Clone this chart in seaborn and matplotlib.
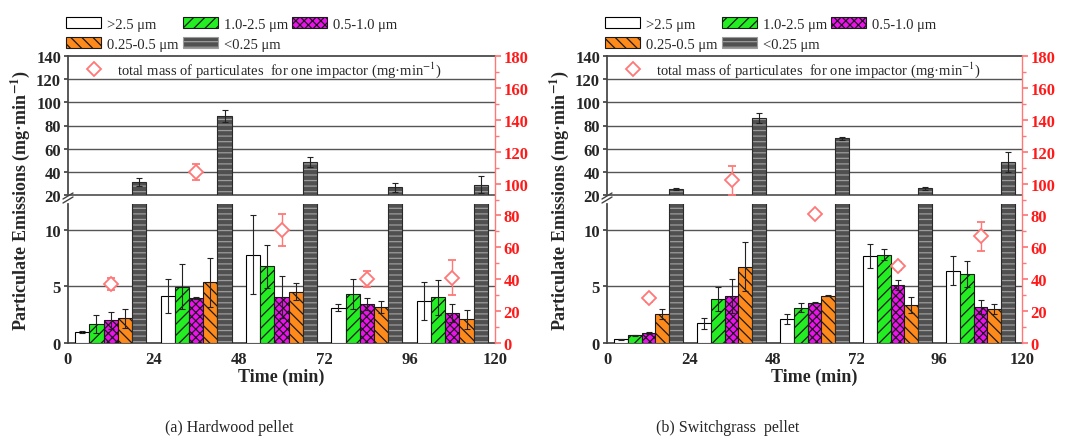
import numpy as np
import matplotlib
matplotlib.use("Agg")
import matplotlib.pyplot as plt
import seaborn as sns
from matplotlib.patches import Patch
from matplotlib.lines import Line2D
from matplotlib.ticker import MultipleLocator

# ---------------- data ----------------
size_labels = [">2.5 μm", "1.0-2.5 μm", "0.5-1.0 μm", "0.25-0.5 μm", "<0.25 μm"]
group_centers = [12, 36, 60, 84, 108]
time_ticks = [0, 24, 48, 72, 96, 120]
panel_titles = ["(a) Hardwood pellet", "(b) Switchgrass  pellet"]
total_label = "total mass of particulates  for one impactor (mg·min$^{-1}$)"

# (a) Hardwood pellet
hw_gt25 = [0.98, 4.17, 7.83, 3.12, 3.72]
hw_gt25_err = [0.08, 1.5, 3.5, 0.3, 1.7]
hw_10_25 = [1.67, 4.97, 6.79, 4.35, 4.05]
hw_10_25_err = [0.8, 2.0, 1.9, 1.35, 1.55]
hw_05_10 = [2.02, 4.0, 4.1, 3.45, 2.62]
hw_05_10_err = [0.75, 0.1, 1.85, 0.5, 0.8]
hw_025_05 = [2.17, 5.36, 4.55, 3.21, 2.08]
hw_025_05_err = [0.8, 2.2, 0.75, 0.55, 0.85]
hw_lt025 = [31, 88, 48.5, 26.5, 29]
hw_lt025_err = [3.5, 5, 4, 4, 7]
hw_total = [37, 107, 71, 40, 41]
hw_total_err = [4, 5, 10, 5, 11]

# (b) Switchgrass pellet
sg_gt25 = [0.33, 1.73, 2.11, 7.71, 6.4]
sg_gt25_err = [0.05, 0.5, 0.45, 1.07, 1.28]
sg_10_25 = [0.68, 3.87, 3.13, 7.83, 6.13]
sg_10_25_err = [0.05, 1.07, 0.4, 0.45, 1.16]
sg_05_10 = [0.89, 4.17, 3.57, 5.15, 3.21]
sg_05_10_err = [0.05, 1.5, 0.05, 0.45, 0.6]
sg_025_05 = [2.53, 6.76, 4.2, 3.36, 3.0]
sg_025_05_err = [0.45, 2.2, 0.05, 0.7, 0.45]
sg_lt025 = [25, 86.6, 68.8, 25.7, 48.7]
sg_lt025_err = [1, 4.5, 1, 1, 8.6]
sg_total = [28, 102, 81, 48, 67]
sg_total_err = [2, 9, 2, 2.5, 9]

panels = [
    dict(series=[hw_gt25, hw_10_25, hw_05_10, hw_025_05, hw_lt025],
         errs=[hw_gt25_err, hw_10_25_err, hw_05_10_err, hw_025_05_err, hw_lt025_err],
         total=hw_total, total_err=hw_total_err),
    dict(series=[sg_gt25, sg_10_25, sg_05_10, sg_025_05, sg_lt025],
         errs=[sg_gt25_err, sg_10_25_err, sg_05_10_err, sg_025_05_err, sg_lt025_err],
         total=sg_total, total_err=sg_total_err),
]

# ---------------- style ----------------
sns.set_theme(style="white")
plt.rcParams["font.family"] = ["Liberation Serif", "DejaVu Serif"]
plt.rcParams["mathtext.fontset"] = "stix"
plt.rcParams["hatch.linewidth"] = 0.9

face_colors = ["white", "#22ee22", "#ee11ee", "#ff8a1c", "#505050"]
hatch_colors = ["black", "#1a1a1a", "#1a1a1a", "#1a1a1a", "#9c9c9c"]
hatches = [None, "///", "xxxx", "\\\\\\", "---"]
red = "#ff1a1a"
pink = "#ff7777"
grid_c = "#555555"

W, H = 1072, 439
fig = plt.figure(figsize=(W / 100, H / 100), dpi=100)

def fx(px):
    return px / W

def fy(py):
    return 1 - py / H

panel_x = [(68, 495), (607, 1022)]
up_top, up_bot = 57, 196
lo_top, lo_bot = 205, 344
bar_w = 4
offsets = [-8, -4, 0, 4, 8]
caption_x = [229, 728]

for p, (x0, x1) in enumerate(panel_x):
    d = panels[p]
    ax_up = fig.add_axes([fx(x0), fy(up_bot), fx(x1 - x0), fy(up_top) - fy(up_bot)])
    ax_lo = fig.add_axes([fx(x0), fy(lo_bot), fx(x1 - x0), fy(lo_top) - fy(lo_bot)])

    for ax in (ax_up, ax_lo):
        for k in range(5):
            xs = [c + offsets[k] for c in group_centers]
            sns.barplot(x=xs, y=d["series"][k], native_scale=True, width=bar_w / 24,
                        color=face_colors[k], saturation=1, errorbar=None,
                        edgecolor=hatch_colors[k], linewidth=0 if k == 4 else 0.8,
                        hatch=hatches[k], ax=ax, zorder=3)
            if k == 4:
                ax.bar(xs, d["series"][k], width=bar_w, fill=False,
                       edgecolor="#2a2a2a", linewidth=0.8, zorder=4)
            ax.errorbar(xs, d["series"][k], yerr=d["errs"][k], fmt="none",
                        ecolor="#222222", elinewidth=0.8, capsize=2.5, capthick=0.8,
                        zorder=5)
        ax.set_xlim(0, 120)
        ax.set_xlabel("")
        ax.set_ylabel("")
        ax.grid(False)
        ax.spines["right"].set_visible(False)
        ax.spines["left"].set_color("#444444")
        ax.set_facecolor("none")

    ax_up.set_ylim(20, 140)
    ax_up.set_yticks(range(20, 141, 20))
    for v in range(40, 140, 20):
        ax_up.axhline(v, color=grid_c, lw=1.0, zorder=1)
    ax_up.spines["bottom"].set_color(grid_c)
    ax_up.spines["top"].set_color("#444444")
    ax_up.set_xticks([])

    ax_lo.set_ylim(0, 12.3)
    ax_lo.set_yticks([0, 5, 10])
    for v in (5, 10):
        ax_lo.axhline(v, color=grid_c, lw=1.0, zorder=1)
    ax_lo.spines["top"].set_visible(False)
    ax_lo.spines["bottom"].set_color("#444444")
    ax_lo.set_xticks(time_ticks)
    ax_lo.tick_params(axis="x", direction="in", length=4, color="#444444",
                      labelsize=12, pad=6)
    ax_lo.set_xlabel("Time (min)", fontsize=13, fontweight="bold", labelpad=0)

    for ax in (ax_up, ax_lo):
        ax.tick_params(axis="y", direction="out", length=3, color="#444444",
                       labelsize=12, pad=2, left=True)
        for t in ax.get_xticklabels() + ax.get_yticklabels():
            t.set_fontweight("bold")

    # break marks
    for yy in (up_bot + 1, up_bot + 5):
        fig.add_artist(Line2D([fx(x0 - 5), fx(x0 + 5)], [fy(yy + 3), fy(yy - 3)],
                              color="#444444", lw=1.0))

    # right axis with total mass
    ax_r = fig.add_axes([fx(x0), fy(lo_bot), fx(x1 - x0), fy(up_top) - fy(lo_bot)])
    ax_r.set_facecolor("none")
    for s in ("left", "top", "bottom"):
        ax_r.spines[s].set_visible(False)
    ax_r.spines["right"].set_color(pink)
    ax_r.spines["right"].set_linewidth(1.0)
    ax_r.set_xlim(0, 120)
    ax_r.set_ylim(0, 180)
    ax_r.set_xticks([])
    ax_r.yaxis.tick_right()
    ax_r.set_yticks(range(0, 181, 20))
    ax_r.yaxis.set_minor_locator(MultipleLocator(10))
    ax_r.tick_params(axis="y", which="both", direction="out", colors=pink,
                     labelcolor=red, labelsize=12, length=4, pad=2, right=True)
    ax_r.tick_params(axis="y", which="minor", length=3)
    for t in ax_r.get_yticklabels():
        t.set_fontweight("bold")
    ax_r.errorbar(group_centers, d["total"], yerr=d["total_err"], fmt="D",
                  ms=7, mfc="white", mec=pink, mew=1.3, ecolor=pink,
                  elinewidth=1.0, capsize=3, capthick=1.0, zorder=6)
    ax_r.grid(False)

    # inner legend
    h_tot = Line2D([], [], ls="none", marker="D", ms=7, mfc="white",
                   mec=pink, mew=1.3)
    ax_up.legend([h_tot], [total_label], loc="upper left", frameon=False,
                 fontsize=10.5, bbox_to_anchor=(0.02, 1.04), handlelength=1.2,
                 handletextpad=1.0, borderaxespad=0.2)

    # size-class legend above
    handles = [Patch(facecolor=face_colors[k], edgecolor=hatch_colors[k] if k < 4 else "#9c9c9c",
                     hatch=hatches[k], linewidth=0.8) for k in range(5)]
    order = [0, 3, 1, 4, 2]
    fig.legend([handles[i] for i in order], [size_labels[i] for i in order],
               loc="upper left", bbox_to_anchor=(fx(x0 - 2), fy(18)), ncol=3,
               frameon=False, fontsize=10.5, handlelength=2.4, handleheight=0.8,
               handletextpad=0.4, columnspacing=0.3, labelspacing=0.45,
               borderpad=0, borderaxespad=0)

    # y label
    fig.text(fx(x0 - 48), fy((up_top + lo_bot) / 2),
             "Particulate Emissions (mg·min$\\mathbf{^{-1}}$)",
             rotation=90, ha="center", va="center", fontsize=13, fontweight="bold")

    fig.text(fx(caption_x[p]), fy(428), panel_titles[p], ha="center", va="center",
             fontsize=11.5)

fig.savefig("out.png", dpi=100)
